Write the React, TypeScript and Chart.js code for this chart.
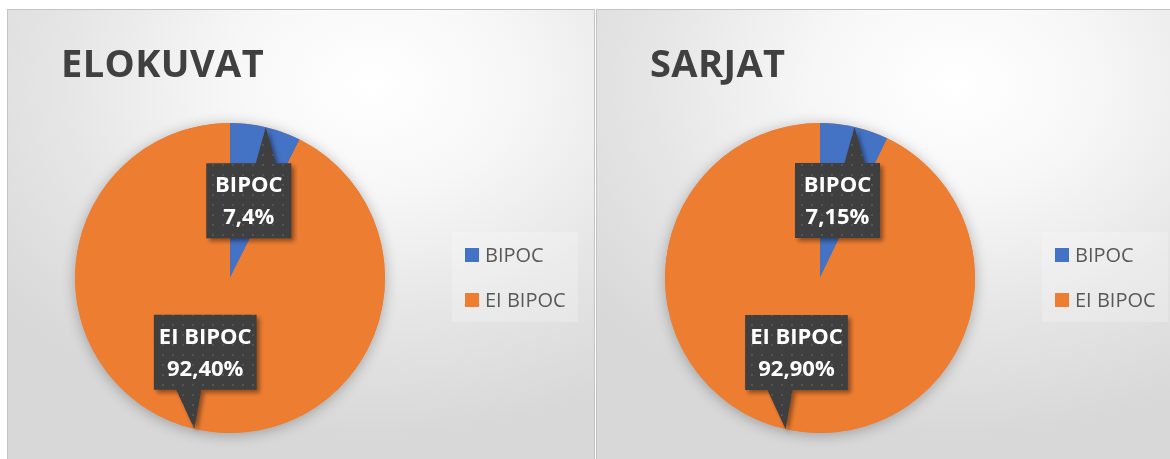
import React, { useEffect, useRef } from "react";
import { Chart, registerables } from "chart.js";

Chart.register(...registerables);

// ---- data ----
const CATEGORIES = ["BIPOC", "EI BIPOC"];
const ELOKUVAT_VALUES = [7.4, 92.4];
const SARJAT_VALUES = [7.15, 92.9];
const ELOKUVAT_LABELS = ["7,4%", "92,40%"];
const SARJAT_LABELS = ["7,15%", "92,90%"];
const TITLES = ["ELOKUVAT", "SARJAT"];
const COLORS = ["#4472C4", "#ED7D31"];

// ---- styling / layout ----
const FONT = "'Open Sans', 'Noto Sans', sans-serif";
const RADIUS = 155;
const CALLOUTS = [
  { dir: "up", dx: -17, gap: 36, baseL: -10, baseR: 10 },
  { dir: "down", dx: 11, gap: 39, baseL: -18, baseR: 7 },
];

let patternCache: CanvasPattern | null = null;
function getPattern(ctx: CanvasRenderingContext2D) {
  if (patternCache) return patternCache;
  const c = document.createElement("canvas");
  c.width = 10;
  c.height = 10;
  const p = c.getContext("2d")!;
  p.fillStyle = "#3f3f3f";
  p.fillRect(0, 0, 10, 10);
  p.fillStyle = "#545454";
  p.fillRect(4, 4, 2, 2);
  patternCache = ctx.createPattern(c, "repeat");
  return patternCache;
}

const decorPlugin = {
  id: "decor",
  beforeDatasetsDraw(chart: any) {
    const meta = chart.getDatasetMeta(0);
    const arc = meta.data[0];
    if (!arc) return;
    const ctx = chart.ctx as CanvasRenderingContext2D;
    ctx.save();
    ctx.shadowColor = "rgba(0,0,0,0.28)";
    ctx.shadowBlur = 14;
    ctx.shadowOffsetX = 0;
    ctx.shadowOffsetY = 2;
    ctx.fillStyle = COLORS[1];
    ctx.beginPath();
    ctx.arc(arc.x, arc.y, arc.outerRadius, 0, Math.PI * 2);
    ctx.fill();
    ctx.restore();
  },
  afterDatasetsDraw(chart: any, _args: any, opts: any) {
    const ctx = chart.ctx as CanvasRenderingContext2D;
    const meta = chart.getDatasetMeta(0);
    const labels = chart.data.labels as string[];
    const pct = opts.pctLabels as string[];
    const first = meta.data[0];
    const cx = first.x;
    const cy = first.y;

    // title
    ctx.save();
    ctx.fillStyle = "#404040";
    ctx.font = `bold 38px ${FONT}`;
    (ctx as any).letterSpacing = "0.4px";
    ctx.textBaseline = "alphabetic";
    ctx.textAlign = "left";
    ctx.fillText(opts.title, 53, 67);
    ctx.restore();

    // callouts
    meta.data.forEach((a: any, i: number) => {
      const cfg = CALLOUTS[i];
      const mid = (a.startAngle + a.endAngle) / 2;
      const tx = a.x + Math.cos(mid) * a.outerRadius;
      const ty = a.y + Math.sin(mid) * a.outerRadius;
      const lines = [labels[i], pct[i]];
      ctx.save();
      ctx.font = `bold 22px ${FONT}`;
      const tw = Math.max(...lines.map((l) => ctx.measureText(l).width));
      const bw = Math.max(tw + 10, 85);
      const bh = 75;
      const bx = tx + cfg.dx - bw / 2;
      const by = cfg.dir === "up" ? ty + cfg.gap : ty - cfg.gap - bh;
      ctx.beginPath();
      if (cfg.dir === "up") {
        ctx.moveTo(bx, by);
        ctx.lineTo(tx + cfg.baseL, by);
        ctx.lineTo(tx, ty);
        ctx.lineTo(tx + cfg.baseR, by);
        ctx.lineTo(bx + bw, by);
        ctx.lineTo(bx + bw, by + bh);
        ctx.lineTo(bx, by + bh);
      } else {
        ctx.moveTo(bx, by);
        ctx.lineTo(bx + bw, by);
        ctx.lineTo(bx + bw, by + bh);
        ctx.lineTo(tx + cfg.baseR, by + bh);
        ctx.lineTo(tx, ty);
        ctx.lineTo(tx + cfg.baseL, by + bh);
        ctx.lineTo(bx, by + bh);
      }
      ctx.closePath();
      ctx.shadowColor = "rgba(0,0,0,0.4)";
      ctx.shadowBlur = 4;
      ctx.shadowOffsetX = 3;
      ctx.shadowOffsetY = 3;
      ctx.fillStyle = getPattern(ctx) || "#404040";
      ctx.fill();
      ctx.shadowColor = "transparent";
      ctx.fillStyle = "#ffffff";
      ctx.textAlign = "center";
      ctx.textBaseline = "middle";
      ctx.fillText(lines[0], bx + bw / 2, by + 23);
      ctx.fillText(lines[1], bx + bw / 2, by + 55);
      ctx.restore();
    });

    // legend
    ctx.save();
    const lx = cx + 235;
    const ly = cy - 30;
    ctx.fillStyle = "rgba(255,255,255,0.22)";
    ctx.fillRect(cx + 222, cy - 46, 126, 90);
    ctx.font = `20px ${FONT}`;
    ctx.textBaseline = "middle";
    ctx.textAlign = "left";
    labels.forEach((l, i) => {
      const y = ly + i * 45;
      ctx.fillStyle = COLORS[i];
      ctx.fillRect(lx, y, 14, 14);
      ctx.fillStyle = "#595959";
      ctx.fillText(l, lx + 20, y + 8);
    });
    ctx.restore();
  },
};

function Panel(props: {
  title: string;
  values: number[];
  pctLabels: string[];
  left: number;
  width: number;
  cx: number;
}) {
  const ref = useRef<HTMLCanvasElement>(null);
  const cw = Math.min(props.width - 2, 1170 - props.left - 1);
  const ch = 449;
  useEffect(() => {
    const cy = 268;
    const chart = new Chart(ref.current!, {
      type: "pie",
      data: {
        labels: CATEGORIES,
        datasets: [
          {
            data: props.values,
            backgroundColor: COLORS,
            borderWidth: 0,
            hoverOffset: 0,
            offset: 0,
          },
        ],
      },
      options: {
        animation: false,
        responsive: false,
        events: [],
        layout: {
          padding: {
            left: props.cx - RADIUS,
            top: cy - RADIUS,
            right: cw - (props.cx + RADIUS),
            bottom: ch - (cy + RADIUS),
          },
        },
        plugins: {
          legend: { display: false },
          tooltip: { enabled: false },
          decor: { title: props.title, pctLabels: props.pctLabels },
        } as any,
      },
      plugins: [decorPlugin],
    });
    return () => chart.destroy();
  }, []);
  return (
    <div
      style={{
        position: "absolute",
        left: props.left,
        top: 9,
        width: props.width,
        height: 470,
        boxSizing: "border-box",
        border: "1px solid #c4c4c4",
        background:
          "radial-gradient(ellipse 80% 75% at 62% 16%, #ffffff 0%, #f7f7f7 30%, #e6e6e6 65%, #d8d8d8 100%)",
        overflow: "hidden",
      }}
    >
      <canvas
        ref={ref}
        width={cw}
        height={ch}
        style={{ position: "absolute", left: 0, top: 0, width: cw, height: ch }}
      />
    </div>
  );
}

export default function App() {
  return (
    <div
      style={{
        position: "absolute",
        left: 0,
        top: 0,
        width: 1170,
        height: 459,
        overflow: "hidden",
        background: "#ffffff",
      }}
    >
      <Panel title={TITLES[0]} values={ELOKUVAT_VALUES} pctLabels={ELOKUVAT_LABELS} left={7} width={588} cx={222} />
      <Panel title={TITLES[1]} values={SARJAT_VALUES} pctLabels={SARJAT_LABELS} left={596} width={580} cx={223} />
    </div>
  );
}
